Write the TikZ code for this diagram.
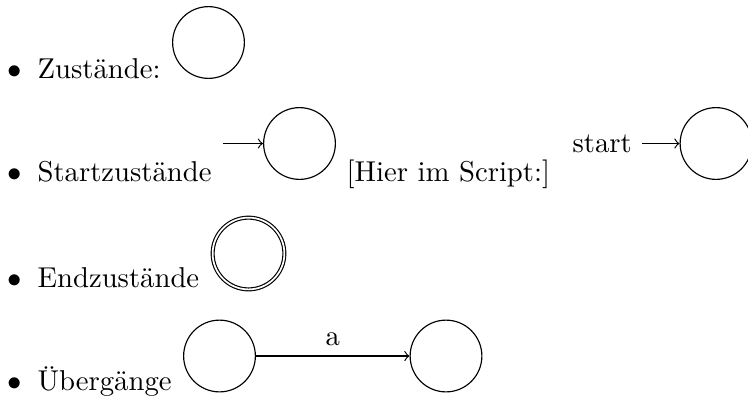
\documentclass[tikz,border=0pt]{standalone}
\usetikzlibrary{automata}
\begin{document}
\begin{tikzpicture}[x=0.3484pt,y=-0.3484pt,
  zst/.style={circle,draw,minimum size=2.5em,inner sep=0pt},
  endzst/.style={zst,double,double distance=0.6pt},
  itemtext/.style={anchor=base west,inner sep=0pt},
  itembullet/.style={anchor=base,inner sep=0pt},
  arr/.style={->}]
  \useasboundingbox (0,0) rectangle (748,401);
  \clip (0,0) rectangle (748,401);

  % Zustände
  \node[itembullet] (b1) at (15,78) {$\bullet$};
  \node[itemtext] (t1) at (37,78) {Zustände:};
  \node[zst] (z1) at (208.5,42.5) {};

  % Startzustände
  \node[itembullet] (b2) at (15,181) {$\bullet$};
  \node[itemtext] (t2) at (37,181) {Startzustände};
  \node[zst] (z2) at (299.5,143.5) {};
  \coordinate (i2) at (223,143.5);
  \draw[arr] (i2) -- (z2);
  \node[itemtext] (t2b) at (346,181) {[Hier im Script:]};
  \node[zst] (z3) at (716,143.5) {};
  \node[anchor=east] (st) at (642,143.5) {start};
  \draw[arr] (st) -- (z3);

  % Endzustände
  \node[itembullet] (b3) at (15,287) {$\bullet$};
  \node[itemtext] (t3) at (37,287) {Endzustände};
  \node[endzst] (z4) at (248.5,253.5) {};

  % Übergänge
  \node[itembullet] (b4) at (15,390) {$\bullet$};
  \node[itemtext] (t4) at (37,390) {Übergänge};
  \node[zst] (z5) at (219.5,356) {};
  \node[zst] (z6) at (446,356) {};
  \draw[arr] (z5) -- node[above] (la) {a} (z6);
\end{tikzpicture}
\end{document}
